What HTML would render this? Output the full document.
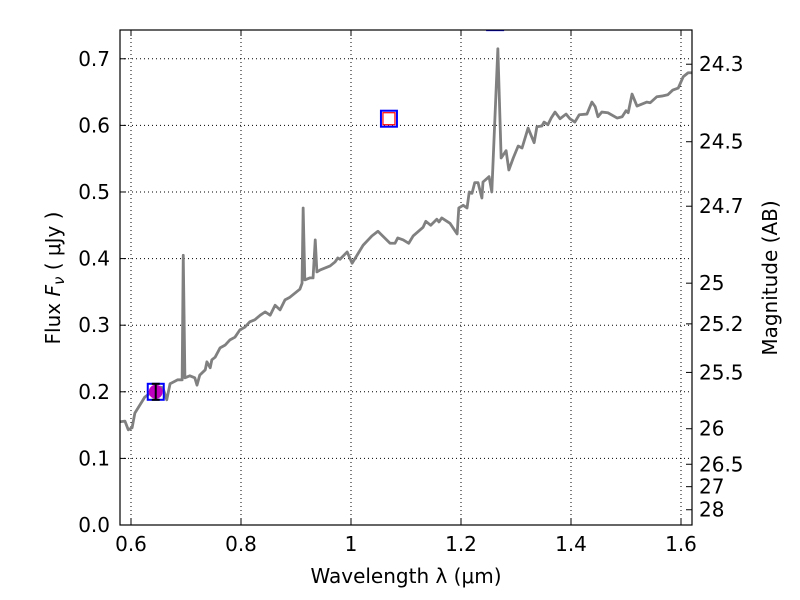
<!DOCTYPE html>
<html><head><meta charset="utf-8"><style>
body{margin:0;background:#fff;}
svg{display:block;font-family:"DejaVu Sans","Liberation Sans",sans-serif;}
</style></head><body>
<svg id="chart" width="800" height="600" xmlns="http://www.w3.org/2000/svg">
<rect width="800" height="600" fill="#fff"/>
<defs><clipPath id="pa"><rect x="120" y="30" width="572" height="495"/></clipPath></defs>
<g id="grid"></g>
<g id="series" clip-path="url(#pa)"></g>
<g id="axes"></g>
</svg>
<script>
const lam=[0.580,0.589,0.595,0.602,0.607,0.616,0.625,0.635,0.653,0.658,0.665,0.671,0.685,0.693,0.695,0.698,0.707,0.716,0.720,0.725,0.735,0.738,0.744,0.747,0.753,0.762,0.771,0.780,0.789,0.798,0.807,0.816,0.825,0.835,0.844,0.853,0.862,0.871,0.880,0.889,0.898,0.907,0.911,0.913,0.916,0.925,0.931,0.935,0.938,0.944,0.953,0.962,0.971,0.976,0.980,0.993,1.002,1.011,1.022,1.038,1.049,1.071,1.080,1.085,1.095,1.105,1.113,1.131,1.136,1.145,1.156,1.160,1.165,1.180,1.193,1.196,1.204,1.211,1.215,1.220,1.225,1.231,1.238,1.240,1.251,1.256,1.267,1.273,1.282,1.287,1.295,1.304,1.311,1.322,1.333,1.338,1.347,1.351,1.358,1.364,1.371,1.380,1.391,1.398,1.407,1.415,1.429,1.438,1.444,1.449,1.456,1.467,1.484,1.493,1.500,1.504,1.511,1.520,1.529,1.538,1.544,1.556,1.565,1.576,1.585,1.595,1.604,1.613,1.620];
const flux=[0.155,0.156,0.143,0.146,0.168,0.180,0.192,0.198,0.207,0.206,0.188,0.212,0.218,0.218,0.405,0.221,0.224,0.221,0.210,0.225,0.233,0.245,0.236,0.248,0.252,0.266,0.270,0.278,0.282,0.293,0.297,0.305,0.308,0.315,0.320,0.315,0.330,0.323,0.338,0.342,0.348,0.354,0.363,0.476,0.368,0.371,0.371,0.428,0.380,0.383,0.386,0.389,0.395,0.401,0.399,0.410,0.393,0.405,0.420,0.434,0.441,0.423,0.423,0.431,0.428,0.423,0.434,0.447,0.456,0.450,0.459,0.455,0.461,0.453,0.437,0.476,0.480,0.476,0.500,0.498,0.514,0.514,0.491,0.515,0.523,0.500,0.715,0.551,0.562,0.533,0.551,0.569,0.566,0.596,0.574,0.598,0.599,0.605,0.601,0.611,0.620,0.610,0.617,0.610,0.605,0.616,0.617,0.635,0.628,0.613,0.620,0.619,0.611,0.613,0.622,0.619,0.647,0.629,0.632,0.635,0.634,0.643,0.644,0.646,0.653,0.656,0.673,0.679,0.679];
const photLam=[0.645,1.069,1.262];
const photFlux=[0.200,0.610,0.755];
const measLam=[0.645];
const measFlux=[0.200];
const measErr=[0.012];
const xTicks=[0.6,0.8,1.0,1.2,1.4,1.6];
const xTickLabels=["0.6","0.8","1","1.2","1.4","1.6"];
const yTicks=[0,0.1,0.2,0.3,0.4,0.5,0.6,0.7];
const yTickLabels=["0.0","0.1","0.2","0.3","0.4","0.5","0.6","0.7"];
const magTicks=[24.3,24.5,24.7,25,25.2,25.5,26,26.5,27,28];
const magLabels=["24.3","24.5","24.7","25","25.2","25.5","26","26.5","27","28"];

const L=120,R=692,T=30,B=525,X0=0.58,X1=1.62,Y0=0,Y1=0.7432;
const sx=v=>L+(v-X0)/(X1-X0)*(R-L);
const sy=v=>B-(v-Y0)/(Y1-Y0)*(B-T);
const NS="http://www.w3.org/2000/svg";
function mk(tag,attrs,parent,text){const e=document.createElementNS(NS,tag);for(const k in attrs)e.setAttribute(k,attrs[k]);if(text!==undefined)e.textContent=text;parent.appendChild(e);return e;}
const grid=document.getElementById('grid'),ser=document.getElementById('series'),ax=document.getElementById('axes');

xTicks.forEach((t,i)=>{const x=sx(t);
 const g=mk('line',{x1:x,x2:x,y1:T,y2:B,stroke:'#000','stroke-width':1,'stroke-dasharray':'1,3'},grid);
 
 mk('line',{x1:x,x2:x,y1:B,y2:B-6,stroke:'#000'},ax);mk('line',{x1:x,x2:x,y1:T,y2:T+6,stroke:'#000'},ax);
 const lb=mk('text',{x:x,y:B+26,'text-anchor':'middle','font-size':20},ax,xTickLabels[i]);
 
});
yTicks.forEach((t,i)=>{const y=sy(t);
 const g=mk('line',{x1:L,x2:R,y1:y,y2:y,stroke:'#000','stroke-width':1,'stroke-dasharray':'1,3'},grid);
 
 mk('line',{x1:L,x2:L+6,y1:y,y2:y,stroke:'#000'},ax);
 const lb=mk('text',{x:L-10,y:y+7,'text-anchor':'end','font-size':20},ax,yTickLabels[i]);
 
});
magTicks.forEach((m,i)=>{const y=sy(Math.pow(10,(23.9-m)/2.5));
 mk('line',{x1:R,x2:R-6,y1:y,y2:y,stroke:'#000'},ax);
 const lb=mk('text',{x:R+7,y:y+7,'font-size':20},ax,magLabels[i]);
 
});

const line=mk('polyline',{points:lam.map((l,i)=>sx(l)+','+sy(flux[i])).join(' '),fill:'none',stroke:'#808080','stroke-width':2.8,'stroke-linejoin':'round'},ser);

photLam.forEach((l,i)=>{const x=sx(l),y=sy(photFlux[i]);
 const r=mk('rect',{x:x-8,y:y-8,width:16,height:16,fill:'none',stroke:'#0000ff','stroke-width':2},ser);
 
});
{const x=sx(photLam[1]),y=sy(photFlux[1]);
 const r=mk('rect',{x:x-6,y:y-6,width:12,height:12,fill:'none',stroke:'#ff0000','stroke-width':1.2},ser);
 }
measLam.forEach((l,i)=>{const x=sx(l),y=sy(measFlux[i]);
 const c=mk('circle',{cx:x,cy:y,r:7,fill:'#bf00bf'},ser);
 
 const y1=sy(measFlux[i]+measErr[i]),y2=sy(measFlux[i]-measErr[i]);
 mk('line',{x1:x,x2:x,y1:y1,y2:y2,stroke:'#000','stroke-width':2},ser);
 mk('line',{x1:x-4,x2:x+4,y1:y1,y2:y1,stroke:'#000','stroke-width':2},ser);
 mk('line',{x1:x-4,x2:x+4,y1:y2,y2:y2,stroke:'#000','stroke-width':2},ser);
});
const fr=mk('rect',{x:L,y:T,width:R-L,height:B-T,fill:'none',stroke:'#000','stroke-width':1.2},ax);

const xl=mk('text',{x:406,y:583,'text-anchor':'middle','font-size':20},ax,'Wavelength  λ (μm)');

const yl=mk('text',{x:0,y:0,'text-anchor':'middle','font-size':20,transform:'translate(60,278) rotate(-90)','xml:space':'preserve'},ax);

mk('tspan',{},yl,'Flux  ');
mk('tspan',{'font-style':'italic'},yl,'F');
mk('tspan',{'font-style':'italic','font-size':15,dy:4},yl,'ν');
mk('tspan',{dy:-4},yl,'  ( μJy )');
const ml=mk('text',{x:0,y:0,'text-anchor':'middle','font-size':20,transform:'translate(777,278) rotate(-90)'},ax,'Magnitude (AB)');

</script>
</body></html>
